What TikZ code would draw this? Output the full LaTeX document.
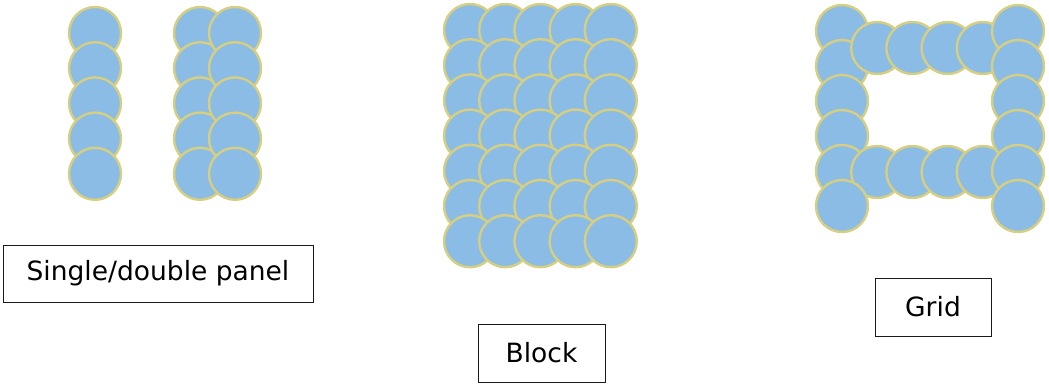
\documentclass[tikz,border=0pt]{standalone}
\usepackage{fontspec}
\setmainfont{DejaVu Sans}
\usetikzlibrary{positioning}
\definecolor{disc-fill}{HTML}{8BBCE6}
\definecolor{disc-rim}{HTML}{D6CE80}
\definecolor{box-line}{HTML}{1A1A1A}
\tikzset{
  disc/.style={fill=disc-fill, draw=disc-rim, line width=2.4pt},
  % Caption box under each arrangement
  label-box/.style={draw=box-line, line width=1pt, inner sep=0pt, outer sep=0pt,
    font=\fontsize{26.5}{30}\selectfont}
}
\newcommand{\discr}{26}

\begin{document}
\begin{tikzpicture}[x=1pt, y=-1pt]
  \useasboundingbox (0,0) rectangle (1049,383);

  % ---- Single panel --------------------------------------------------------
  \foreach \row in {0,...,4}
    \draw[disc] (95, 33+35.2*\row) circle (\discr);

  % ---- Double panel --------------------------------------------------------
  \foreach \col in {0,1}
    \foreach \row in {0,...,4}
      \draw[disc] (200+35*\col, 33+35.2*\row) circle (\discr);

  % ---- Block ---------------------------------------------------------------
  \foreach \row in {0,...,6}
    \foreach \col in {0,...,4}
      \draw[disc] (470+35.2*\col, 30+35.2*\row) circle (\discr);

  % ---- Grid ----------------------------------------------------------------
  \foreach \row in {0,...,4}
    \draw[disc] (842, 31+35*\row) circle (\discr);
  \foreach \col in {1,...,4} {
    \draw[disc] (842+35.2*\col, 48) circle (\discr);
  }
  \foreach \col in {1,...,4} {
    \draw[disc] (842+35.2*\col, 172) circle (\discr);
  }
  \draw[disc] (842, 206) circle (\discr);
  \foreach \row in {0,...,5}
    \draw[disc] (1018, 31+35*\row) circle (\discr);

  % ---- Captions ------------------------------------------------------------
  \node[label-box, minimum width=310pt, minimum height=57pt] (single) at (158, 273.5)
        {Single/double panel};
  \node[label-box, minimum width=127pt, minimum height=58pt] (block) at (541.5, 353)
        {Block};
  \node[label-box, minimum width=116pt, minimum height=58pt] (grid) at (933, 307)
        {Grid};

\end{tikzpicture}
\end{document}
